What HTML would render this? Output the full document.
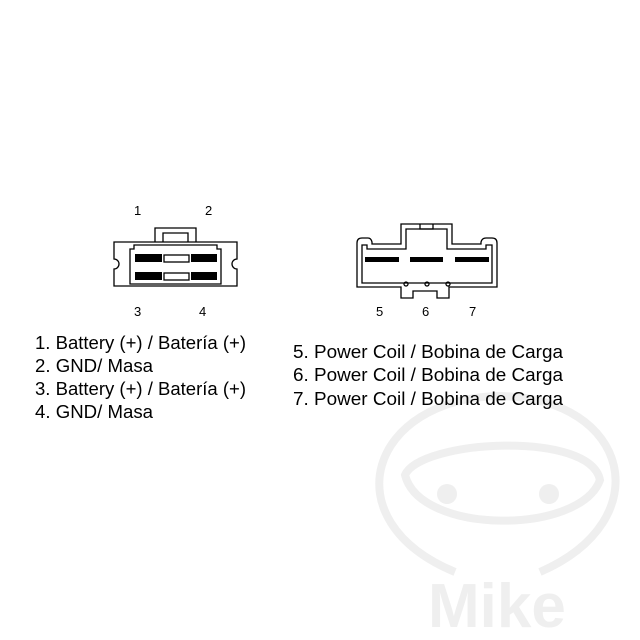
<!DOCTYPE html>
<html><head><style>body{margin:0;background:#fff}svg{display:block}</style></head><body>
<svg width="640" height="640" viewBox="0 0 640 640" xmlns="http://www.w3.org/2000/svg" font-family="Liberation Sans, Arial, sans-serif">
<g fill="none" stroke="#efefef" stroke-width="8">
<path d="M455 572 C 330 520, 370 398, 500 396 C 630 398, 660 520, 540 572"/>
<path d="M405 475 C 420 440, 590 430, 600 480 C 580 535, 420 535, 405 475 Z"/>
</g>
<circle cx="447" cy="494" r="10" fill="#efefef"/>
<circle cx="549" cy="494" r="10" fill="#efefef"/>
<text x="428" y="627" font-size="62" font-weight="bold" fill="#efefef">Mike</text>

<g fill="none" stroke="#000" stroke-width="1.3">
<path d="M114 242 H237 V259 A5 5 0 0 0 237 269 V286 H114 V269 A5 5 0 0 0 114 259 Z"/>
<path d="M155 242 V228 H196 V242"/>
<path d="M163 242 V233 H188 V242"/>
<path d="M130 284 V249 H134 V245 H217 V249 H221 V284 Z"/>
<rect x="164" y="255" width="25" height="7"/>
<rect x="164" y="273" width="25" height="7"/>
</g>
<g fill="#000">
<rect x="135" y="254" width="27" height="8"/><rect x="191" y="254" width="26" height="8"/>
<rect x="135" y="272" width="27" height="8"/><rect x="191" y="272" width="26" height="8"/>
</g>
<g font-size="13" fill="#000">
<text x="134" y="215">1</text><text x="205" y="215">2</text>
<text x="134" y="316">3</text><text x="199" y="316">4</text>
</g>

<g fill="none" stroke="#000" stroke-width="1.3">
<path d="M357 287 V243 Q357 238 362 238 H368 Q371 238 372 242 V244 H401 V224 H452 V244 H481 V242 Q482 238 486 238 H492 Q497 238 497 243 V287 H449 V298 H437 V291 H413 V298 H401 V287 Z"/>
<path d="M362 283 V245 H367 V249 H406 V229 H447 V249 H486 V245 H492 V283 Z"/>
<path d="M420 224 V229 H433 V224"/>
<circle cx="406" cy="284" r="2"/><circle cx="427" cy="284" r="2"/><circle cx="448" cy="284" r="2"/>
</g>
<g fill="#000">
<rect x="365" y="257" width="34" height="5"/>
<rect x="410" y="257" width="33" height="5"/>
<rect x="455" y="257" width="34" height="5"/>
</g>
<g font-size="13" fill="#000">
<text x="376" y="316">5</text><text x="422" y="316">6</text><text x="469" y="316">7</text>
</g>

<g font-size="18" fill="#000">
<text x="35" y="349" textLength="211" lengthAdjust="spacingAndGlyphs">1. Battery (+) / Batería (+)</text>
<text x="35" y="372" textLength="118" lengthAdjust="spacingAndGlyphs">2. GND/ Masa</text>
<text x="35" y="395" textLength="211" lengthAdjust="spacingAndGlyphs">3. Battery (+) / Batería (+)</text>
<text x="35" y="418" textLength="118" lengthAdjust="spacingAndGlyphs">4. GND/ Masa</text>
<text x="293" y="358" textLength="270" lengthAdjust="spacingAndGlyphs">5. Power Coil / Bobina de Carga</text>
<text x="293" y="381" textLength="270" lengthAdjust="spacingAndGlyphs">6. Power Coil / Bobina de Carga</text>
<text x="293" y="405" textLength="270" lengthAdjust="spacingAndGlyphs">7. Power Coil / Bobina de Carga</text>
</g>
</svg>
</body></html>
